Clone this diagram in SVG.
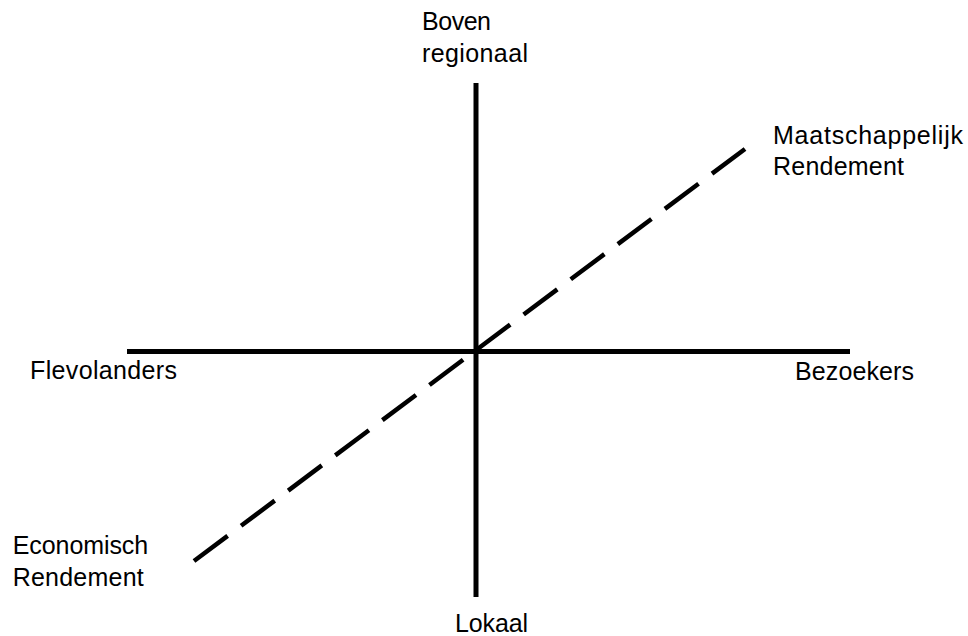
<svg xmlns="http://www.w3.org/2000/svg" width="968" height="636" viewBox="0 0 968 636">
  <style>
    .lbl { font-family: "Liberation Sans", Arial, sans-serif; font-size: 25px; fill: #000; }
    .axis { stroke: #000; stroke-width: 5; fill: none; }
    .dash { stroke: #000; stroke-width: 4.5; fill: none; stroke-dasharray: 42 16.8; }
  </style>
  <rect width="968" height="636" fill="#fff"/>
  <g id="connectors">
    <line class="axis" x1="476" y1="83" x2="476" y2="597"/>
    <line class="axis" x1="127" y1="351.5" x2="850" y2="351.5"/>
    <line class="dash" x1="194" y1="561" x2="745" y2="149"/>
  </g>
  <g id="boven">
    <text class="lbl" x="422" y="30" textLength="69" lengthAdjust="spacing">Boven</text>
    <text class="lbl" x="422" y="61.7" textLength="106" lengthAdjust="spacing">regionaal</text>
  </g>
  <g id="maatschappelijk">
    <text class="lbl" x="773" y="144" textLength="190" lengthAdjust="spacing">Maatschappelijk</text>
    <text class="lbl" x="773" y="175" textLength="131" lengthAdjust="spacing">Rendement</text>
  </g>
  <g id="flevolanders">
    <text class="lbl" x="30" y="378.5" textLength="147" lengthAdjust="spacing">Flevolanders</text>
  </g>
  <g id="bezoekers">
    <text class="lbl" x="795" y="379.5" textLength="119" lengthAdjust="spacing">Bezoekers</text>
  </g>
  <g id="economisch">
    <text class="lbl" x="12.7" y="554" textLength="135.5" lengthAdjust="spacing">Economisch</text>
    <text class="lbl" x="12.7" y="585.5" textLength="131" lengthAdjust="spacing">Rendement</text>
  </g>
  <g id="lokaal">
    <text class="lbl" x="455" y="632" textLength="73" lengthAdjust="spacing">Lokaal</text>
  </g>
</svg>
